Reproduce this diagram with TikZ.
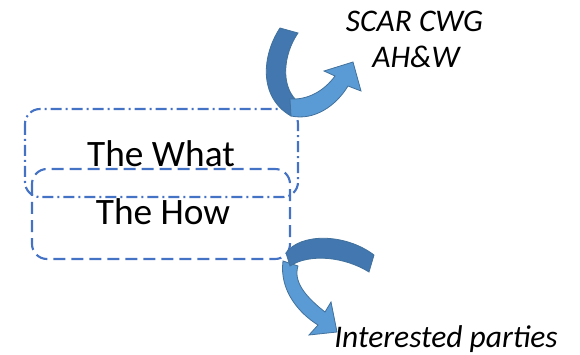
\documentclass[tikz,border=0pt]{standalone}
\usepackage{fontspec}
\setmainfont{Carlito}
\definecolor{boxblue}{RGB}{68,114,196}
\definecolor{darkband}{RGB}{66,119,175}
\definecolor{lightband}{RGB}{91,155,213}
\definecolor{bandline}{RGB}{65,113,156}
\tikzset{
  whatbox/.style={draw=boxblue, line width=2.1pt, rounded corners=15pt,
    dash pattern=on 11pt off 4pt on 2pt off 4pt},
  howbox/.style={draw=boxblue, line width=2.1pt, rounded corners=15pt,
    dash pattern=on 12pt off 6pt},
  bigtext/.style={inner sep=0pt, anchor=base, font=\fontsize{37.3}{42}\selectfont},
  itext/.style={inner sep=0pt, anchor=base, font=\fontsize{31.5}{36}\selectfont\itshape},
  darkpart/.style={fill=darkband, draw=bandline, line width=0.8pt},
  lightpart/.style={fill=lightband, draw=bandline, line width=0.8pt},
}
\begin{document}
\begin{tikzpicture}[x=1pt,y=-1pt]
\useasboundingbox (0,0) rectangle (580,355);
% boxes
\draw[whatbox] (25,109) rectangle (298,197);
\draw[howbox] (32,169) rectangle (290,259);
\node[bigtext] (what) at (161,167) {The What};
\node[bigtext] (how) at (163,225) {The How};
% labels
\node[itext] (scar) at (414.5,32) {SCAR CWG};
\node[itext] (ahw) at (416,68) {AH\&W};
\node[itext] (parties) at (446,347) {Interested parties};
% top curved arrow
\path[darkpart] (280,28) .. controls (262,55) and (258,97) .. (291,116)
  -- (296,100) .. controls (281,85) and (283,55) .. (298,33) -- cycle;
\path[lightpart] (291,116) .. controls (314,121) and (336,106) .. (348,86)
  -- (361,91) -- (353,62) -- (324,71) -- (335,76)
  .. controls (324,91) and (308,100) .. (290,99) -- cycle;
% bottom curved arrow
\path[lightpart] (283,261) .. controls (279,291) and (300,314) .. (318,325)
  -- (309,335) -- (337,332) -- (331,302) -- (325,312)
  .. controls (306,297) and (293,282) .. (298,266) -- cycle;
\path[darkpart] (286,253) .. controls (300,233) and (345,233) .. (374,255)
  -- (369,272) .. controls (345,257) and (310,253) .. (290,266) -- cycle;
\end{tikzpicture}
\end{document}
